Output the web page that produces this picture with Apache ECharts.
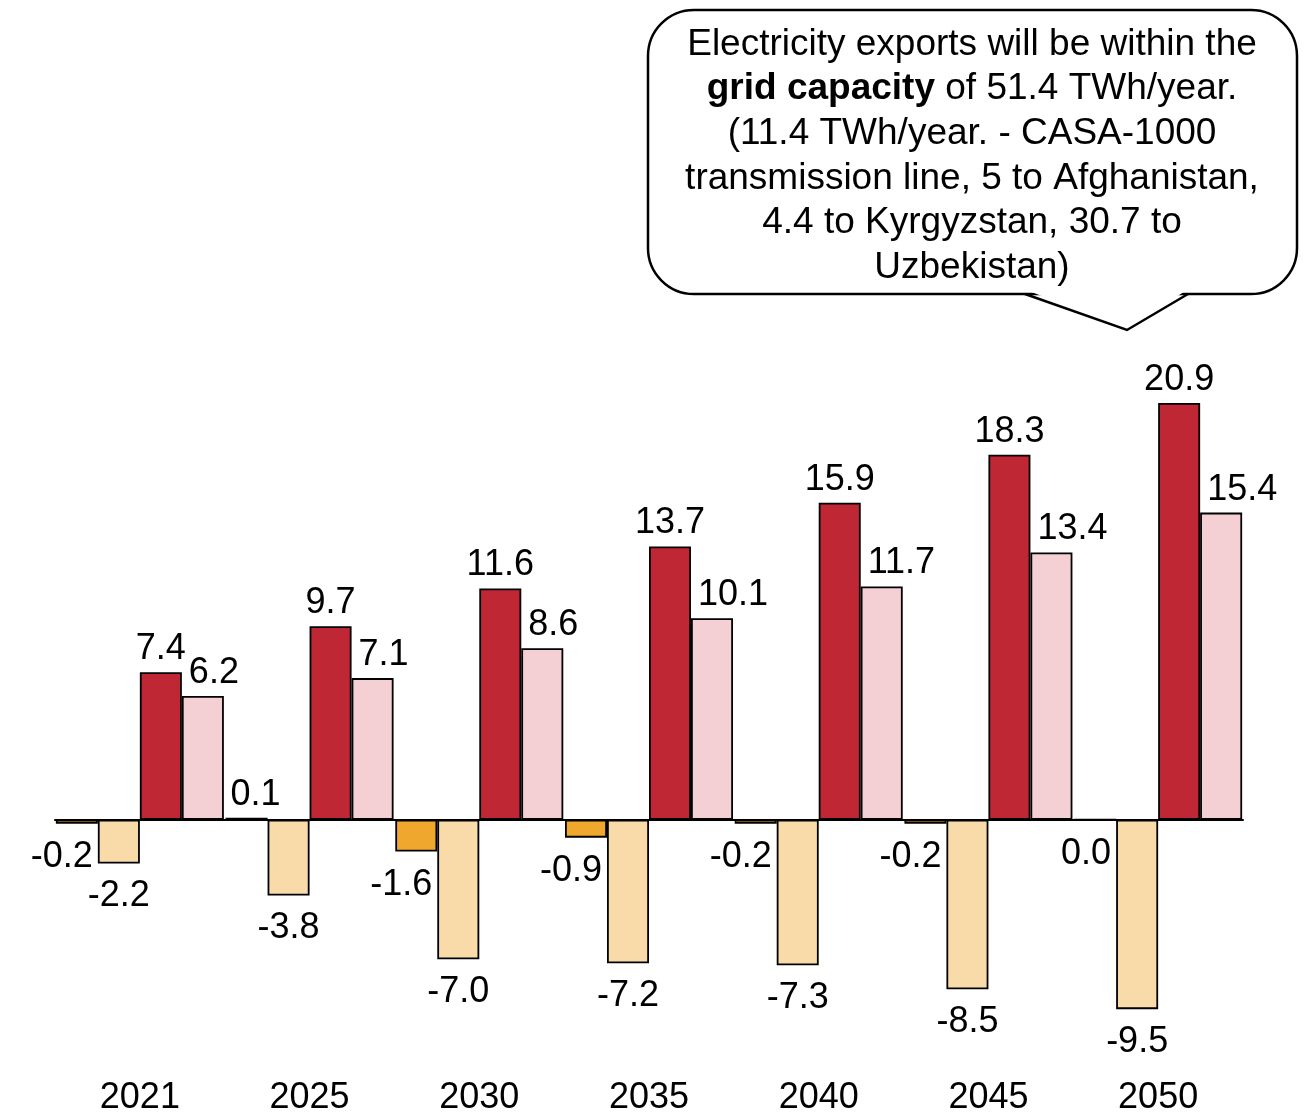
<!DOCTYPE html>
<html>
<head>
<meta charset="utf-8">
<script src="https://cdn.jsdelivr.net/npm/echarts@6/dist/echarts.min.js"></script>
<style>
  html, body { margin: 0; padding: 0; background: #ffffff; }
  #chart { width: 1307px; height: 1116px; }
</style>
</head>
<body>
<div id="chart"></div>
<script>
// Categories and series values (TWh)
const years = ['2021', '2025', '2030', '2035', '2040', '2045', '2050'];
const orangeValues      = [-0.2, 0.1, -1.6, -0.9, -0.2, -0.2, 0.0];
const lightOrangeValues = [-2.2, -3.8, -7.0, -7.2, -7.3, -8.5, -9.5];
const redValues         = [7.4, 9.7, 11.6, 13.7, 15.9, 18.3, 20.9];
const pinkValues        = [6.2, 7.1, 8.6, 10.1, 11.7, 13.4, 15.4];

// Callout text, one entry per line ({b|...} = bold run)
const calloutLines = [
  'Electricity exports will be within the',
  '{b|grid capacity} of 51.4 TWh/year.',
  '(11.4 TWh/year. - CASA-1000',
  'transmission line, 5 to Afghanistan,',
  '4.4 to Kyrgyzstan, 30.7 to',
  'Uzbekistan)'
];

const FONT = '"Liberation Sans", Arial, Helvetica, sans-serif';
const LABEL_SIZE = 36;

const baseLabel = {
  show: true,
  position: 'outside',
  color: '#000',
  fontFamily: FONT,
  fontSize: LABEL_SIZE,
  formatter: p => Number(p.value).toFixed(1)
};

// Labels above positive bars sit a little closer than labels below negative ones
function labelGap(v) {
  return v > 0 ? 5 : 15;
}

function barSeries(name, values, color, labelFor) {
  return {
    name: name,
    type: 'bar',
    barWidth: 42,
    barGap: '0%',
    data: values.map(v => ({
      value: v,
      label: Object.assign({ distance: labelGap(v) }, labelFor ? labelFor(v) : {})
    })),
    itemStyle: { color: color, borderColor: '#000', borderWidth: 1.8 },
    label: baseLabel
  };
}

const chart = echarts.init(document.getElementById('chart'), null, { renderer: 'canvas' });

chart.setOption({
  animation: false,
  backgroundColor: '#ffffff',
  grid: { left: 55, right: 64, top: 381, bottom: 55, containLabel: false },
  xAxis: [
    {
      type: 'category',
      data: years,
      position: 'bottom',
      axisLine: { show: false, onZero: false },
      axisTick: { show: false },
      axisLabel: { color: '#000', fontFamily: FONT, fontSize: LABEL_SIZE, margin: 21 }
    },
    {
      type: 'category',
      data: years,
      axisLine: { show: true, onZero: true, lineStyle: { color: '#000', width: 2 } },
      axisTick: { show: false },
      axisLabel: { show: false }
    }
  ],
  yAxis: {
    type: 'value',
    min: -12,
    max: 22,
    show: false,
    splitLine: { show: false }
  },
  series: [
    barSeries('Orange', orangeValues, '#EFA72E', v => v > 0
      ? { align: 'left', offset: [-16, 0] }
      : { align: 'right', offset: [16, 0] }),
    barSeries('Light orange', lightOrangeValues, '#F8DBA8'),
    barSeries('Red', redValues, '#C02734'),
    barSeries('Pink', pinkValues, '#F4D0D5', () => ({ align: 'left', offset: [-14, 0] }))
  ],
  graphic: [
    {
      type: 'rect',
      shape: { x: 648, y: 10, width: 649, height: 284, r: 46 },
      style: { fill: '#fff', stroke: '#000', lineWidth: 2.5 },
      z: 10
    },
    {
      type: 'polygon',
      shape: { points: [[1026, 290], [1187, 290], [1127, 328]] },
      style: { fill: '#fff', stroke: null },
      z: 11
    },
    {
      type: 'polyline',
      shape: { points: [[1025, 294], [1127, 330], [1188, 294]] },
      style: { fill: null, stroke: '#000', lineWidth: 2.5 },
      z: 12
    },
    {
      type: 'text',
      x: 972,
      y: 156,
      z: 13,
      style: {
        text: calloutLines.join('\n'),
        fill: '#000',
        fontFamily: FONT,
        fontSize: 37,
        lineHeight: 44.6,
        align: 'center',
        verticalAlign: 'middle',
        rich: {
          b: { fontFamily: FONT, fontSize: 37, fontWeight: 'bold', lineHeight: 44.6, fill: '#000' }
        }
      }
    }
  ]
});
</script>
</body>
</html>
